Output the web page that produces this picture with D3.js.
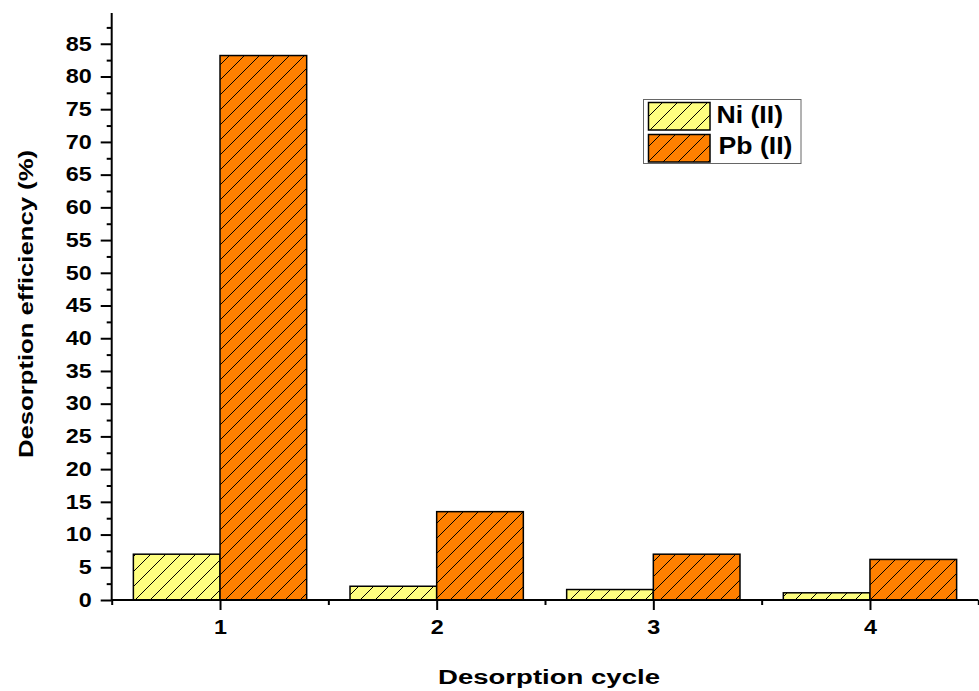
<!DOCTYPE html>
<html>
<head>
<meta charset="utf-8">
<script src="https://cdn.jsdelivr.net/npm/d3@7"></script>
<style>
  html, body { margin: 0; padding: 0; background: #fff; }
  svg { display: block; font-family: "Liberation Sans", Arial, sans-serif; font-weight: bold; }
</style>
</head>
<body>
<svg id="chart" width="979" height="691"></svg>
<script>
// Desorption cycles and efficiencies (%)
const cycles = [1, 2, 3, 4];
const niValues = [7.0, 2.1, 1.6, 1.1];
const pbValues = [83.2, 13.5, 7.0, 6.2];
const seriesNames = ["Ni (II)", "Pb (II)"];
const yTicks = d3.range(0, 90, 5);
const yMinorTicks = d3.range(2.5, 90, 5);
const xMinorTicks = [0.5, 1.5, 2.5, 3.5, 4.5];

const series = [
  { name: seriesNames[0], values: niValues, fill: "#FFFF80", offset: -0.4, labelX: 716.5, labelW: 66.5 },
  { name: seriesNames[1], values: pbValues, fill: "#FF8000", offset: 0, labelX: 718.5, labelW: 74 }
];

const svg = d3.select("#chart");
const x = d3.scaleLinear().domain([0.5, 4.5]).range([111.7, 978.3]);
const y = d3.scaleLinear().domain([0, 89.7]).range([600, 13]);
const barWidth = 0.4;
const digitWidth = 13; // wide bold numerals

// Diagonal hatch patterns
const defs = svg.append("defs");
series.forEach((s, i) => {
  const p = defs.append("pattern")
    .attr("id", "hatch" + i)
    .attr("patternUnits", "userSpaceOnUse")
    .attr("width", 15).attr("height", 15);
  p.append("rect").attr("width", 15).attr("height", 15).attr("fill", s.fill);
  p.append("path")
    .attr("d", "M-2,2 L2,-2 M0,15 L15,0 M13,17 L17,13")
    .attr("stroke", "#000").attr("stroke-width", 1);
});

// Bars
series.forEach((s, i) => {
  svg.append("g").selectAll("rect")
    .data(cycles.map((c, j) => ({ c, v: s.values[j] })))
    .join("rect")
    .attr("x", d => x(d.c + s.offset))
    .attr("width", d => x(d.c + s.offset + barWidth) - x(d.c + s.offset))
    .attr("y", d => y(d.v))
    .attr("height", d => y(0) - y(d.v))
    .attr("fill", "url(#hatch" + i + ")")
    .attr("stroke", "#000")
    .attr("stroke-width", 1.5);
});

// Y axis
const yAxis = svg.append("g").attr("transform", `translate(${x(0.5)},0)`);
yAxis.call(d3.axisLeft(y).tickValues(yTicks).tickSize(11).tickPadding(9).tickFormat(d3.format("d")));
yAxis.append("g").call(d3.axisLeft(y).tickValues(yMinorTicks).tickSize(5).tickFormat(""))
  .select(".domain").remove();
yAxis.selectAll(".domain").attr("d", `M0,${y(0)}V${y.range()[1]}`);

// X axis
const xAxis = svg.append("g").attr("transform", `translate(0,${y(0)})`);
xAxis.call(d3.axisBottom(x).tickValues(cycles).tickSize(10).tickFormat(d3.format("d")));
xAxis.append("g").call(d3.axisBottom(x).tickValues(xMinorTicks).tickSize(5).tickFormat(""))
  .select(".domain").remove();
xAxis.select(".domain").attr("d", `M${x.range()[0]},0H${x.range()[1]}`);
xAxis.selectAll(".tick text").attr("y", 34).attr("dy", 0);

svg.selectAll(".domain, .tick line").attr("stroke", "#000").attr("stroke-width", 2);
svg.selectAll(".tick text")
  .attr("fill", "#000")
  .attr("textLength", function () { return this.textContent.length * digitWidth; })
  .attr("lengthAdjust", "spacingAndGlyphs")
  .style("font-size", "19.5px")
  .style("font-weight", "bold")
  .style("font-family", '"Liberation Sans", Arial, sans-serif');

// Axis titles
svg.append("text")
  .attr("x", 549).attr("y", 684)
  .attr("text-anchor", "middle")
  .attr("textLength", 222).attr("lengthAdjust", "spacingAndGlyphs")
  .style("font-size", "20px")
  .text("Desorption cycle");
svg.append("text")
  .attr("transform", "translate(33,304) rotate(-90)")
  .attr("text-anchor", "middle")
  .attr("textLength", 308).attr("lengthAdjust", "spacingAndGlyphs")
  .style("font-size", "21px")
  .text("Desorption efficiency (%)");

// Legend
const legend = svg.append("g");
legend.append("rect")
  .attr("x", 643.5).attr("y", 99.5).attr("width", 157.5).attr("height", 64)
  .attr("fill", "#fff").attr("stroke", "#666").attr("stroke-width", 1);
series.forEach((s, i) => {
  const top = i === 0 ? 102.5 : 134.5;
  legend.append("rect")
    .attr("x", 648.5).attr("y", top).attr("width", 61.5).attr("height", 27.5)
    .attr("fill", "url(#hatch" + i + ")")
    .attr("stroke", "#000").attr("stroke-width", 1.5);
  legend.append("text")
    .attr("x", s.labelX).attr("y", i === 0 ? 123.3 : 154.3)
    .attr("textLength", s.labelW).attr("lengthAdjust", "spacingAndGlyphs")
    .style("font-size", "23.5px")
    .text(s.name);
});
</script>
</body>
</html>
